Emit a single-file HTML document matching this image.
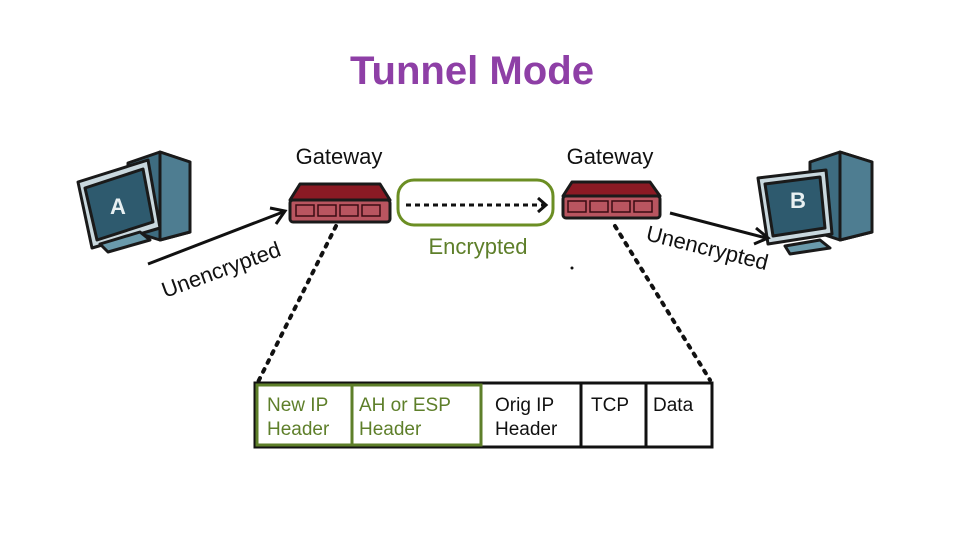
<!DOCTYPE html>
<html><head><meta charset="utf-8"><style>
html,body{margin:0;padding:0;background:#fff;}
svg{display:block;}
text{font-family:"Liberation Sans",sans-serif;}
</style></head><body>
<svg width="960" height="540" viewBox="0 0 960 540" xmlns="http://www.w3.org/2000/svg">
<rect width="960" height="540" fill="#fff"/>
<text x="350" y="84" font-size="40" font-weight="bold" fill="#8e3fa6" textLength="244" lengthAdjust="spacingAndGlyphs">Tunnel Mode</text>

<!-- Computer A -->
<g stroke="#1a1a1a" stroke-width="3" stroke-linejoin="round">
<polygon points="128,163 160,152 190,162 190,232 160,240 128,230" fill="#3e6c80"/>
<polygon points="160,152 190,162 190,232 160,240" fill="#4e7d91"/>
<polygon points="78,182 148,160 160,228 92,248" fill="#c9d8de"/>
<polygon points="85,188 143,169 153,222 97,240" fill="#2e5a6e"/>
<polygon points="100,244 140,232 150,240 108,252" fill="#6a9aab"/>
</g>
<text x="118" y="214" font-size="22" font-weight="bold" fill="#e8f0f2" text-anchor="middle">A</text>

<!-- Computer B -->
<g stroke="#1a1a1a" stroke-width="3" stroke-linejoin="round">
<polygon points="810,162 840,152 872,162 872,232 840,240 810,230" fill="#3e6c80"/>
<polygon points="840,152 872,162 872,232 840,240" fill="#4e7d91"/>
<polygon points="758,178 826,170 832,234 768,244" fill="#c9d8de"/>
<polygon points="765,184 820,177 825,228 773,236" fill="#2e5a6e"/>
<polygon points="785,246 820,240 830,248 790,254" fill="#6a9aab"/>
</g>
<text x="798" y="208" font-size="22" font-weight="bold" fill="#e8f0f2" text-anchor="middle">B</text>

<!-- Gateways -->
<text x="339" y="164" font-size="22" fill="#111" text-anchor="middle">Gateway</text>
<text x="610" y="164" font-size="22" fill="#111" text-anchor="middle">Gateway</text>
<g stroke="#1a1a1a" stroke-width="3" stroke-linejoin="round">
<polygon points="300,184 380,184 390,200 290,200" fill="#8b1a24"/>
<rect x="290" y="200" width="100" height="22" rx="3" fill="#b95560"/>
<polygon points="572,182 650,182 660,196 563,196" fill="#8b1a24"/>
<rect x="563" y="196" width="97" height="22" rx="3" fill="#b95560"/>
</g>
<g fill="none" stroke="#3a0c12" stroke-width="1.5">
<rect x="296" y="205" width="18" height="11"/><rect x="318" y="205" width="18" height="11"/><rect x="340" y="205" width="18" height="11"/><rect x="362" y="205" width="18" height="11"/>
<rect x="568" y="201" width="18" height="11"/><rect x="590" y="201" width="18" height="11"/><rect x="612" y="201" width="18" height="11"/><rect x="634" y="201" width="18" height="11"/>
</g>

<!-- Tunnel -->
<rect x="398" y="180" width="155" height="45" rx="16" fill="none" stroke="#6b8e23" stroke-width="3"/>
<line x1="406" y1="205" x2="544" y2="205" stroke="#111" stroke-width="3" stroke-dasharray="5,4"/>
<polyline points="538,198 546,205 538,212" fill="none" stroke="#111" stroke-width="3"/>
<text x="478" y="254" font-size="22" fill="#5e7f2a" text-anchor="middle">Encrypted</text>

<!-- Arrows -->
<line x1="148" y1="264" x2="283" y2="212" stroke="#111" stroke-width="3"/>
<polyline points="270,208 285,211 276,224" fill="none" stroke="#111" stroke-width="3"/>
<line x1="670" y1="213" x2="766" y2="238" stroke="#111" stroke-width="3"/>
<polyline points="756,228 768,238 754,244" fill="none" stroke="#111" stroke-width="3"/>
<text transform="translate(165,298) rotate(-20)" font-size="22" fill="#111">Unencrypted</text>
<text transform="translate(645,240) rotate(14)" font-size="22" fill="#111">Unencrypted</text>

<!-- Dotted lines -->
<line x1="336" y1="226" x2="258" y2="382" stroke="#111" stroke-width="4" stroke-dasharray="3,7" stroke-linecap="round"/>
<line x1="615" y1="226" x2="710" y2="380" stroke="#111" stroke-width="4" stroke-dasharray="3,7" stroke-linecap="round"/>
<circle cx="572" cy="268" r="1.5" fill="#111"/>

<!-- Packet -->
<rect x="255" y="383" width="457" height="64" fill="#fff" stroke="#111" stroke-width="3"/>
<rect x="257" y="385" width="224" height="60" fill="none" stroke="#5e7f2a" stroke-width="3"/>
<line x1="352" y1="385" x2="352" y2="445" stroke="#5e7f2a" stroke-width="3"/>
<line x1="581" y1="383" x2="581" y2="447" stroke="#111" stroke-width="3"/>
<line x1="646" y1="383" x2="646" y2="447" stroke="#111" stroke-width="3"/>
<g font-size="19" fill="#5e7f2a">
<text x="267" y="411">New IP</text><text x="267" y="435">Header</text>
<text x="359" y="411">AH or ESP</text><text x="359" y="435">Header</text>
</g>
<g font-size="19" fill="#111">
<text x="495" y="411">Orig IP</text><text x="495" y="435">Header</text>
<text x="591" y="411">TCP</text>
<text x="653" y="411">Data</text>
</g>
</svg>
</body></html>
